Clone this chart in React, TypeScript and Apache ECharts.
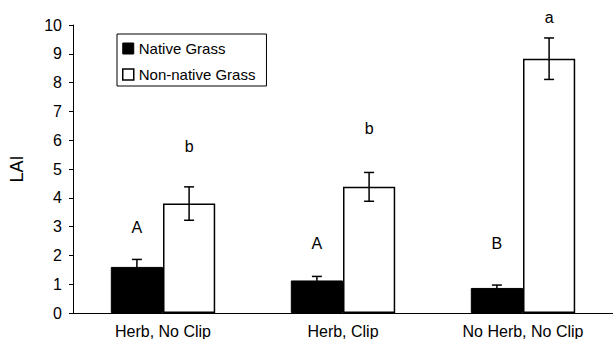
import React, { useEffect, useRef } from "react";
import * as echarts from "echarts";

const categories = ["Herb, No Clip", "Herb, Clip", "No Herb, No Clip"];
const nativeValues = [1.6, 1.13, 0.87];
const nativeErrors = [0.26, 0.14, 0.1];
const nonNativeValues = [3.8, 4.38, 8.83];
const nonNativeErrors = [0.58, 0.5, 0.72];
const nativeLetters = ["A", "A", "B"];
const nativeLetterY = [2.98, 2.42, 2.42];
const nonNativeLetters = ["b", "b", "a"];
const nonNativeLetterY = [5.79, 6.41, 10.27];
const yTicks = [0, 1, 2, 3, 4, 5, 6, 7, 8, 9, 10];

const FONT = "'Liberation Sans', Arial, Helvetica, sans-serif";
const CAT_GAP = 0.42;

function halfOffset(api: any, side: number) {
  const band = api.size([1, 0])[0];
  const barW = (band * (1 - CAT_GAP)) / 2;
  return (side * barW) / 2;
}

export default function App() {
  const ref = useRef<HTMLDivElement>(null);
  useEffect(() => {
    document.body.style.margin = "0";
    const chart = echarts.init(ref.current!, null, { renderer: "svg" });
    const errData = [
      ...nativeValues.map((v, i) => [i, v, nativeErrors[i], -1]),
      ...nonNativeValues.map((v, i) => [i, v, nonNativeErrors[i], 1]),
    ];
    const letterData = [
      ...nativeLetterY.map((v, i) => [i, v, -1]),
      ...nonNativeLetterY.map((v, i) => [i, v, 1]),
    ];
    chart.setOption({
      animation: false,
      textStyle: { fontFamily: FONT, color: "#000" },
      grid: { left: 72, right: 0, top: 25, height: 288.5 },
      legend: {
        orient: "vertical",
        left: 117,
        top: 34,
        borderColor: "#000",
        borderWidth: 1,
        padding: [7, 11, 4, 5],
        itemGap: 11,
        itemWidth: 11,
        itemHeight: 11,
        textStyle: { fontFamily: FONT, fontSize: 15, color: "#000" },
        data: [
          { name: "Native Grass", icon: "rect", itemStyle: { color: "#000", borderColor: "#000", borderWidth: 1 } },
          { name: "Non-native Grass", icon: "rect", itemStyle: { color: "#fff", borderColor: "#000", borderWidth: 1.5 } },
        ],
      },
      xAxis: {
        type: "category",
        data: categories,
        axisLine: { lineStyle: { color: "#000", width: 1 } },
        axisTick: { show: false },
        axisLabel: { color: "#000", fontSize: 16, margin: 10, fontFamily: FONT },
      },
      yAxis: {
        type: "value",
        min: 0,
        max: 10,
        interval: 1,
        name: "LAI",
        nameLocation: "middle",
        nameGap: 47,
        nameRotate: 90,
        nameTextStyle: { fontSize: 18, color: "#000", fontFamily: FONT },
        axisLine: { show: true, lineStyle: { color: "#000", width: 1 } },
        axisTick: { show: true, inside: false, length: 4, lineStyle: { color: "#000" } },
        axisLabel: {
          color: "#000",
          fontSize: 16,
          margin: 11,
          fontFamily: FONT,
          formatter: (v: number) => (yTicks.includes(v) ? String(v) : ""),
        },
        splitLine: { show: false },
      },
      series: [
        {
          name: "Native Grass",
          type: "bar",
          data: nativeValues,
          barGap: "0%",
          barCategoryGap: CAT_GAP * 100 + "%",
          itemStyle: { color: "#000", borderColor: "#000", borderWidth: 1 },
        },
        {
          name: "Non-native Grass",
          type: "bar",
          data: nonNativeValues,
          barGap: "0%",
          barCategoryGap: CAT_GAP * 100 + "%",
          itemStyle: { color: "#fff", borderColor: "#000", borderWidth: 1.5 },
        },
        {
          type: "custom",
          clip: false,
          z: 5,
          data: errData,
          renderItem: (params: any, api: any) => {
            const i = api.value(0);
            const v = api.value(1);
            const e = api.value(2);
            const side = api.value(3);
            const off = halfOffset(api, side);
            const top = api.coord([i, v + e]);
            const bot = api.coord([i, v - e]);
            const x = top[0] + off;
            const cap = 5;
            const st = { stroke: "#000", lineWidth: 1.5 };
            return {
              type: "group",
              children: [
                { type: "line", shape: { x1: x, y1: top[1], x2: x, y2: bot[1] }, style: st },
                { type: "line", shape: { x1: x - cap, y1: top[1], x2: x + cap, y2: top[1] }, style: st },
                { type: "line", shape: { x1: x - cap, y1: bot[1], x2: x + cap, y2: bot[1] }, style: st },
              ],
            };
          },
        },
        {
          type: "custom",
          clip: false,
          z: 6,
          data: letterData,
          renderItem: (params: any, api: any) => {
            const i = api.value(0);
            const v = api.value(1);
            const side = api.value(2);
            const off = halfOffset(api, side);
            const p = api.coord([i, v]);
            const txt = side < 0 ? nativeLetters[i] : nonNativeLetters[i];
            return {
              type: "text",
              style: {
                x: p[0] + off,
                y: p[1],
                text: txt,
                fill: "#000",
                font: "16px " + FONT,
                textAlign: "center",
                textVerticalAlign: "middle",
              },
            };
          },
        },
      ],
    });
    return () => chart.dispose();
  }, []);
  return <div ref={ref} style={{ position: "absolute", left: 0, top: 0, width: 613, height: 339 }} />;
}
